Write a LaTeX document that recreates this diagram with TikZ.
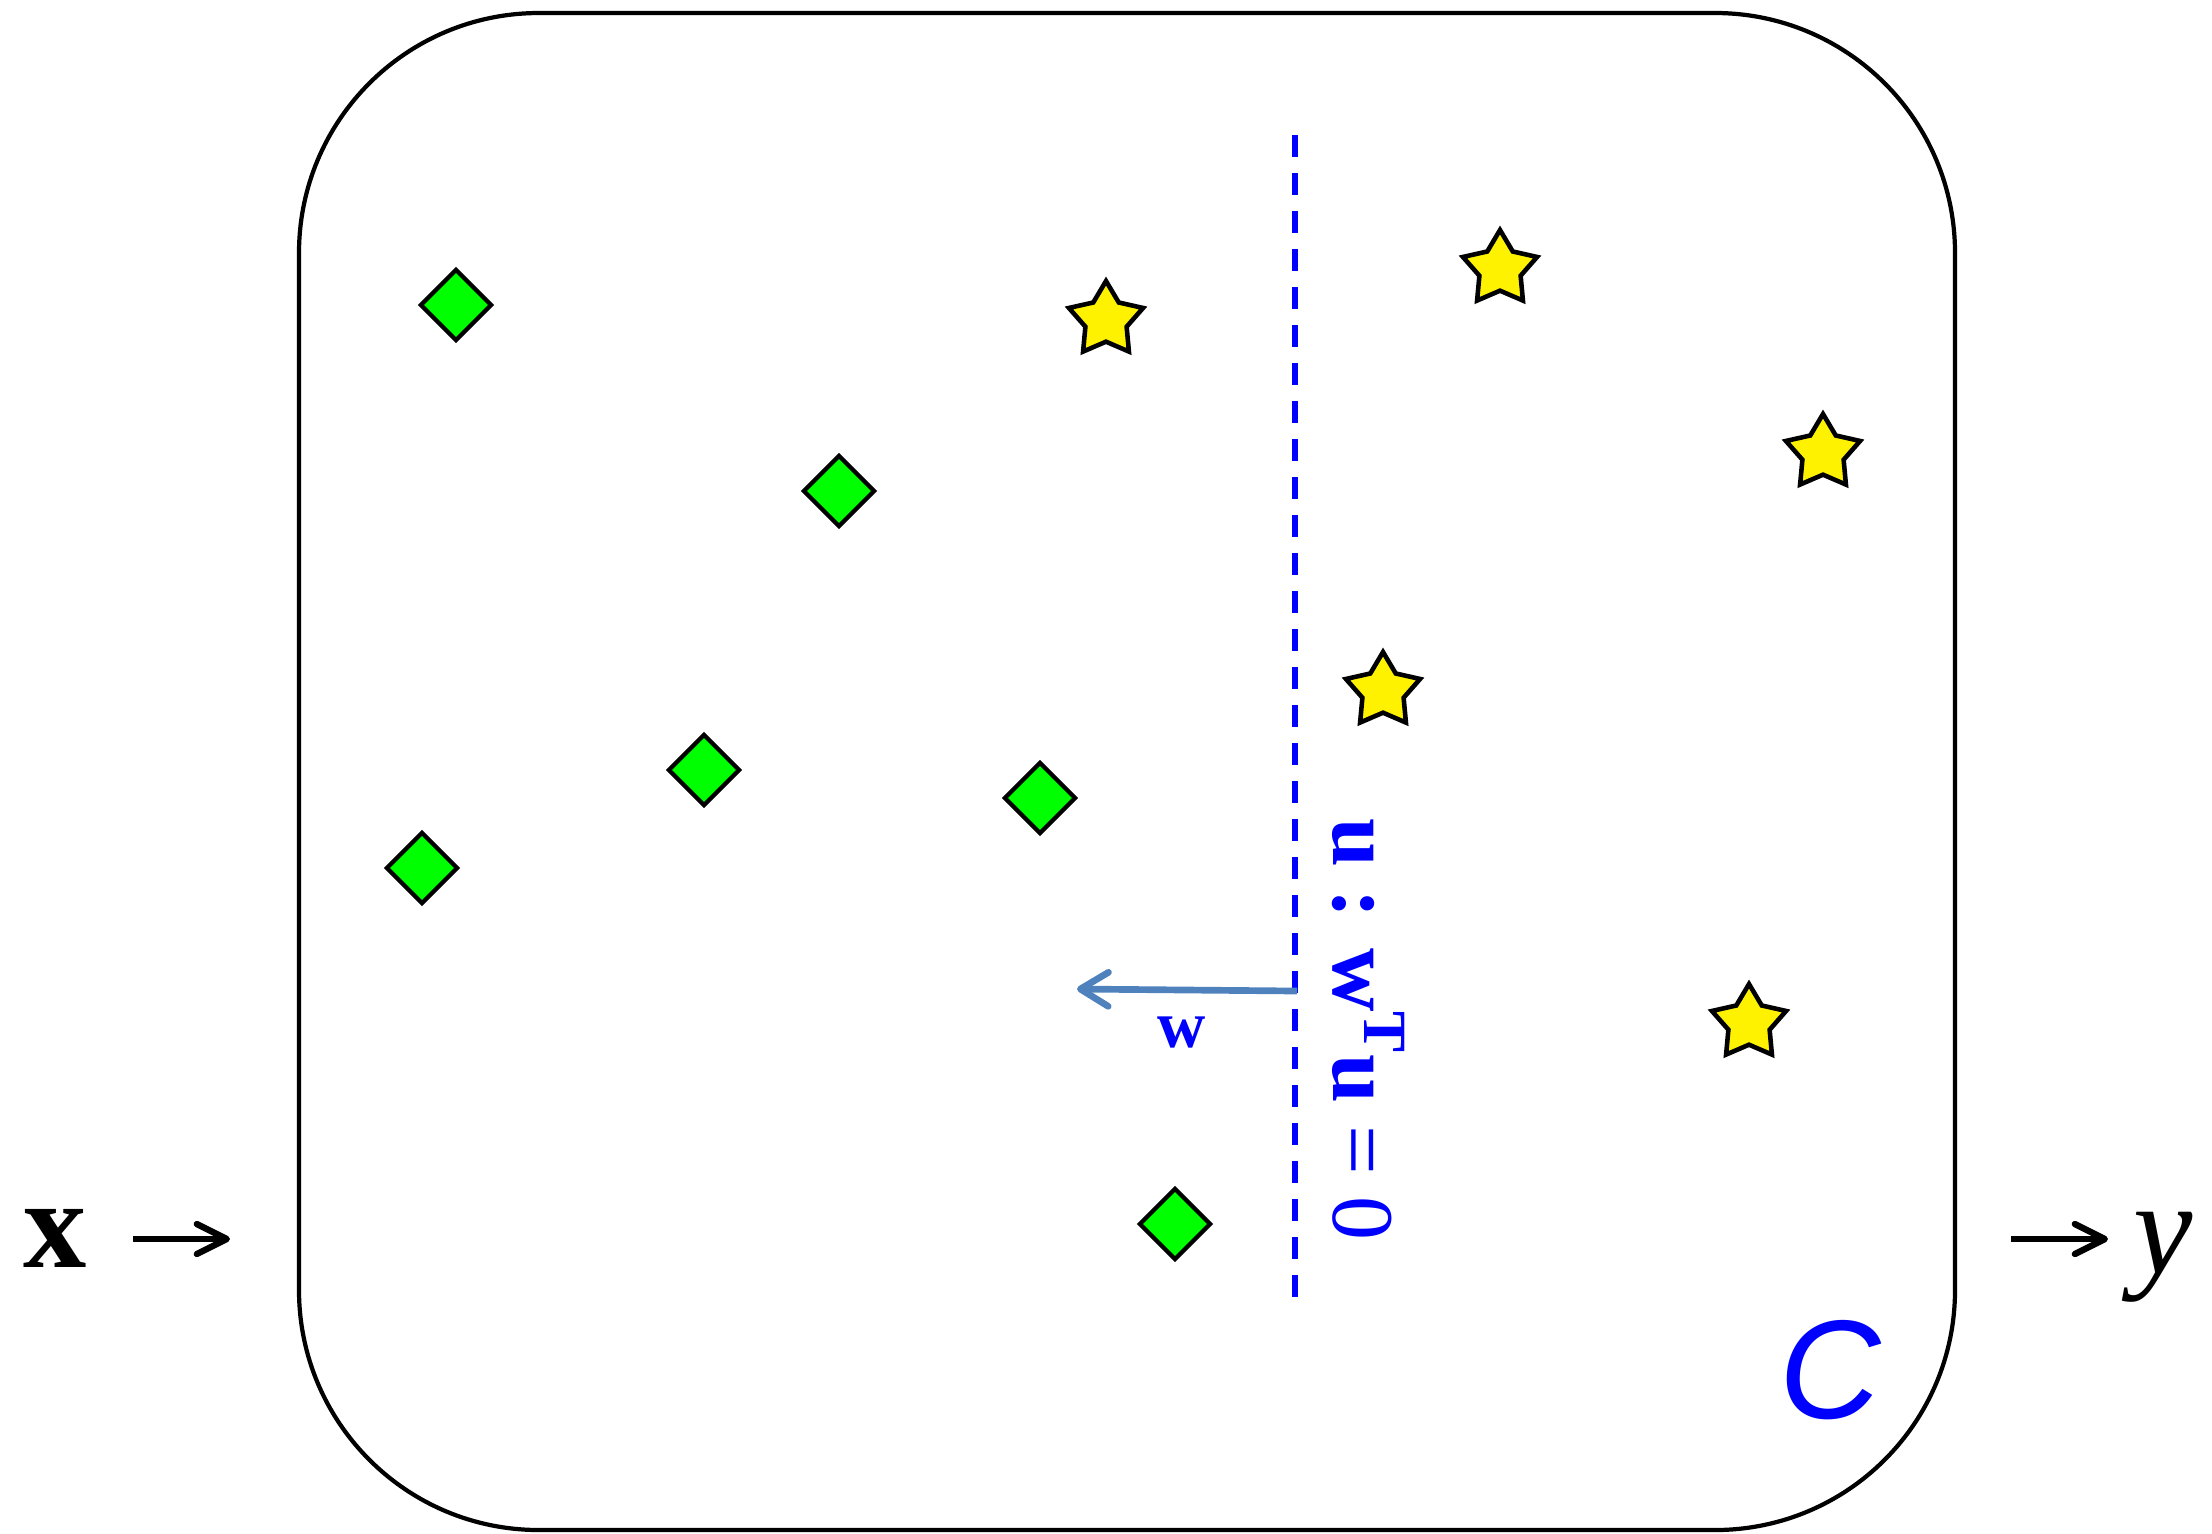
\documentclass[tikz,border=0pt]{standalone}
\usepackage{fontspec}
\setmainfont{Liberation Serif}
\setsansfont{Liberation Sans}
\usetikzlibrary{shapes.geometric, arrows.meta}

\definecolor{wblue}{RGB}{79,129,189}

\begin{document}
\begin{tikzpicture}[
    x=0.1mm, y=-0.1mm,
    neg node/.style={diamond, draw=black, fill=green, line width=1.2pt, inner sep=0pt, minimum width=7.2mm, minimum height=7.2mm},
    pos node/.style={star, star points=5, star point ratio=1.8, draw=black, fill=yellow, line width=1.3pt, inner sep=0pt, minimum size=7.8mm},
    frame edge/.style={line width=1.2pt, draw=black, rounded corners=24mm},
    flow edge/.style={line width=1.8pt, draw=black, -{Straight Barb[length=3mm, width=3mm, round]}},
    sep line/.style={line width=1.6pt, draw=blue, dash pattern=on 2.2mm off 1.6mm},
    w edge/.style={line width=1.9pt, draw=wblue, -{Straight Barb[length=2.8mm, width=3.4mm, round]}},
    big label/.style={inner sep=0pt, font=\fontsize{36}{40}\selectfont}
]
\useasboundingbox (0,0) rectangle (2212,1533);

% the box C
\draw[frame edge] (299,13) rectangle (1955,1530);
\node[inner sep=0pt, text=blue, font=\fontsize{40}{44}\selectfont\sffamily\itshape] (C) at (1830,1370) {C};

% negative points
\node[neg node] (N1) at (456,305) {};
\node[neg node] (N2) at (839,491) {};
\node[neg node] (N3) at (704,770) {};
\node[neg node] (N4) at (422,868) {};
\node[neg node] (N5) at (1040,798) {};
\node[neg node] (N6) at (1175,1224) {};

% positive points
\node[pos node] (P1) at (1106,320) {};
\node[pos node] (P2) at (1500,269) {};
\node[pos node] (P3) at (1823,453) {};
\node[pos node] (P4) at (1383,691) {};
\node[pos node] (P5) at (1749,1023) {};

% separating line and normal
\coordinate (septop) at (1295,135);
\coordinate (sepbot) at (1295,1298);
\draw[sep line] (septop) -- (sepbot);
\node[inner sep=0pt, anchor=base west, rotate=-90, text=blue, font=\fontsize{25}{30}\selectfont] (plane) at (1333,818)
    {\textbf{u : w}\textsuperscript{\textbf{T}}\textbf{u} = 0};

\coordinate (wroot) at (1297,991);
\coordinate (wtip) at (1077,989);
\draw[w edge] (wroot) -- (wtip);
\node[inner sep=0pt, text=blue, font=\fontsize{19}{22}\selectfont\bfseries] (w) at (1182,1032) {w};

% input and output
\node[big label, font=\fontsize{36}{40}\selectfont\bfseries] (x) at (55,1238) {x};
\coordinate (xtail) at (133,1239);
\coordinate (xtip) at (230,1239);
\draw[flow edge] (xtail) -- (xtip);

\node[big label, font=\fontsize{38}{42}\selectfont\itshape] (y) at (2163,1257) {y};
\coordinate (ytail) at (2011,1239);
\coordinate (ytip) at (2108,1239);
\draw[flow edge] (ytail) -- (ytip);

\end{tikzpicture}
\end{document}
